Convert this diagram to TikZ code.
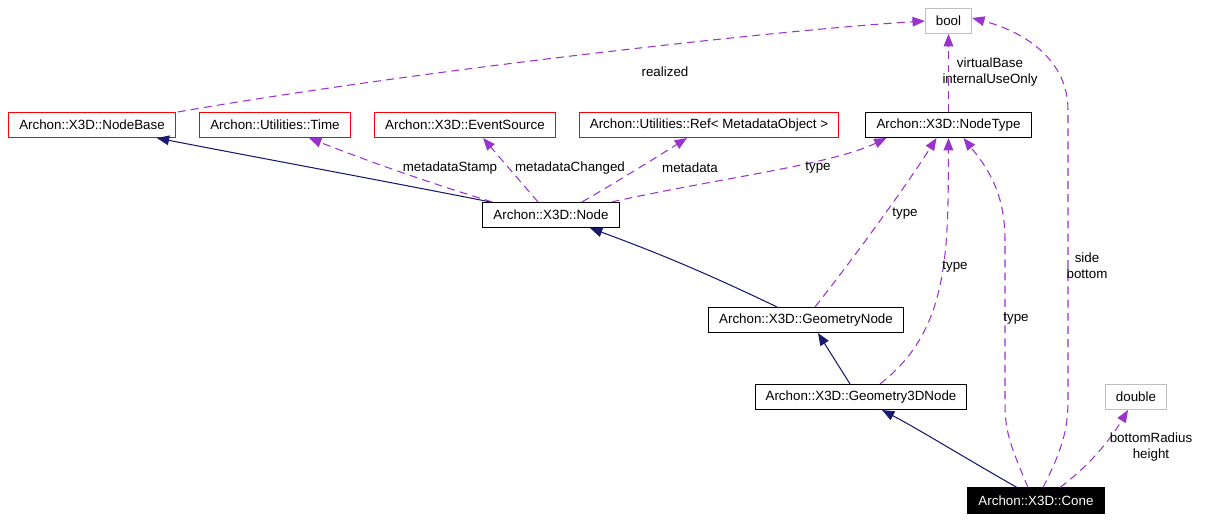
\documentclass[tikz,border=0pt]{standalone}
\usepackage{fontspec}
\setmainfont{Liberation Sans}
\usepackage{tikz}
\usetikzlibrary{arrows.meta, positioning, calc}
\usepackage{xcolor}
\definecolor{inhblue}{HTML}{191970}
\definecolor{usepurple}{HTML}{9A32CD}
\definecolor{boxred}{HTML}{FF0000}
\definecolor{boxgray}{HTML}{BFBFBF}

\begin{document}
\begin{tikzpicture}[
  x=0.02cm, y=-0.02cm,
  every node/.style={font=\fontsize{7.6}{9.2}\selectfont},
  cls/.style={
    draw=#1, fill=white, line width=0.6pt,
    minimum height=0.5cm, inner xsep=6pt, inner ysep=0pt
  },
  inherit/.style={
    draw=inhblue, line width=0.6pt,
    -{Triangle[length=7pt, width=5.5pt]}
  },
  usage/.style={
    draw=usepurple, line width=0.6pt, dash pattern=on 4.5pt off 3pt,
    -{Triangle[length=7pt, width=5.5pt]}
  },
  lbl/.style={align=center, inner sep=0pt}
]
  \useasboundingbox (0,0) rectangle (1225,520);

  \node[cls=boxgray] (bool) at (948.5,21) {bool};
  \node[cls=boxred] (base) at (92,125) {Archon::X3D::NodeBase};
  \node[cls=boxred] (time) at (275,125) {Archon::Utilities::Time};
  \node[cls=boxred] (evsrc) at (465,125) {Archon::X3D::EventSource};
  \node[cls=boxred] (ref) at (709,125) {Archon::Utilities::Ref< MetadataObject >};
  \node[cls=black] (ntype) at (948.5,125) {Archon::X3D::NodeType};
  \node[cls=black] (x3dnode) at (551,215) {Archon::X3D::Node};
  \node[cls=black] (geom) at (806,320) {Archon::X3D::GeometryNode};
  \node[cls=black] (geom3d) at (861,397) {Archon::X3D::Geometry3DNode};
  \node[cls=boxgray] (dbl) at (1136,397) {double};
  \node[cls=black, fill=black, text=white] (cone) at (1036,500.5) {Archon::X3D::Cone};

  \draw[inherit] ($(x3dnode.north west)+(8,0)$) .. controls (400,184) and (260,158) .. ($(base.south east)+(-19,0)$);
  \draw[inherit] ($(geom.north)+(-29,0)$) .. controls (700,270) and (650,250) .. ($(x3dnode.south)+(39,0)$);
  \draw[inherit] ($(geom3d.north)+(-11,0)$) -- ($(geom.south)+(12,0)$);
  \draw[inherit] ($(cone.north)+(-19,0)$) .. controls (960,455) and (920,430) .. ($(geom3d.south)+(21,0)$);

  \draw[usage] ($(base.north east)+(2,0)$) .. controls (420,70) and (780,30) .. (bool.west);
  \draw[usage] ($(x3dnode.north west)+(10,0)$) .. controls (420,180) and (360,158) .. ($(time.south)+(34,0)$);
  \draw[usage] ($(x3dnode.north)+(-13,0)$) -- ($(evsrc.south)+(18,0)$);
  \draw[usage] ($(x3dnode.north)+(31,0)$) .. controls (620,180) and (660,155) .. ($(ref.south)+(-22,0)$);
  \draw[usage] ($(x3dnode.north east)+(-8,0)$) .. controls (720,178) and (830,165) .. ($(ntype.south)+(-62,0)$);
  \draw[usage] (ntype.north) -- (bool.south);
  \draw[usage] ($(geom.north)+(9,0)$) .. controls (860,250) and (910,180) .. ($(ntype.south)+(-12,0)$);
  \draw[usage] ($(geom3d.north)+(19,0)$) .. controls (950,330) and (948,250) .. (ntype.south);
  \draw[usage] ($(cone.north)+(-8,0)$) .. controls (1008,440) and (1005,430) .. (1005,400)
    -- (1005,240) .. controls (1005,190) and (985,165) .. ($(ntype.south)+(15,0)$);
  \draw[usage] ($(cone.north)+(7,0)$) .. controls (1062,450) and (1068,430) .. (1068,400)
    -- (1068,110) .. controls (1068,60) and (1025,32) .. ($(bool.east)+(0,-3)$);
  \draw[usage] ($(cone.north)+(24,0)$) .. controls (1090,465) and (1110,440) .. ($(dbl.south)+(-8,0)$);

  \node[lbl] (lrealized) at (665,72) {realized};
  \node[lbl] (lvirtual) at (990,72) {virtualBase\\internalUseOnly};
  \node[lbl] (lstamp) at (450,168) {metadataStamp};
  \node[lbl] (lchanged) at (570,168) {metadataChanged};
  \node[lbl] (lmeta) at (690,168) {metadata};
  \node[lbl] (ltype1) at (818,168) {type};
  \node[lbl] (ltype2) at (905,214) {type};
  \node[lbl] (ltype3) at (955,267) {type};
  \node[lbl] (ltype4) at (1016,319) {type};
  \node[lbl] (lside) at (1087,266) {side\\bottom};
  \node[lbl] (lradius) at (1151,447) {bottomRadius\\height};
\end{tikzpicture}
\end{document}
